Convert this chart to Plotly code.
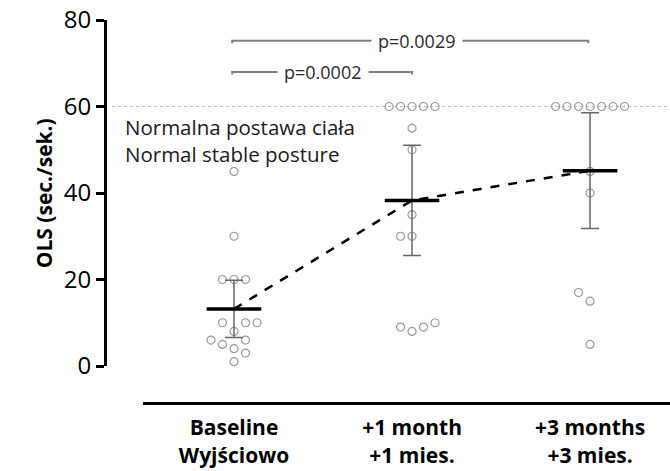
import numpy as np
import plotly.graph_objects as go

# ---- data ----
categories = ["Baseline<br>Wyjściowo", "+1 month<br>+1 mies.", "+3 months<br>+3 mies."]
baseline = [45, 30, 20, 20, 20, 10, 10, 10, 8, 6, 6, 5, 4, 3, 1]
month1 = [60, 60, 60, 60, 60, 55, 50, 35, 30, 30, 10, 9, 9, 8]
month3 = [60, 60, 60, 60, 60, 60, 60, 45, 40, 17, 15, 5]
y_ticks = [0, 20, 40, 60, 80]
normal_level = 60
p_labels = ["p=0.0029", "p=0.0002"]

# horizontal swarm slots (in marker widths) for each point, same order as values
slots_baseline = [0, 0, -1, 0, 1, -1, 1, 2, 0, -2, 1, -1, 0, 1, 0]
slots_month1 = [-2, -1, 0, 1, 2, 0, 0, 0, -1, 0, 2, -1, 1, 0]
slots_month3 = [-3, -2, -1, 0, 1, 2, 3, 0, 0, -1, 0, 0]

groups = [baseline, month1, month3]
slots = [slots_baseline, slots_month1, slots_month3]
t975 = {11: 2.201, 12: 2.179, 13: 2.160, 14: 2.145}

SLOT_W = 0.0646
px, py = [], []
for gi, (vals, sl) in enumerate(zip(groups, slots)):
    for v, s in zip(vals, sl):
        px.append(gi + s * SLOT_W)
        py.append(v)

means, cis = [], []
for vals in groups:
    a = np.array(vals, dtype=float)
    n = len(a)
    m = a.mean()
    se = a.std(ddof=1) / np.sqrt(n)
    means.append(m)
    cis.append(t975[n - 1] * se)

xs = [0, 1, 2]
fig = go.Figure()

fig.add_trace(go.Scatter(
    x=px, y=py, mode="markers", cliponaxis=False,
    marker=dict(symbol="circle-open", size=8, color="#9a9a9a", line=dict(width=1.2)),
    showlegend=False, hoverinfo="skip"))

fig.add_trace(go.Scatter(
    x=xs, y=means, mode="markers", cliponaxis=False,
    marker=dict(size=1, color="rgba(0,0,0,0)"),
    error_y=dict(type="data", array=cis, symmetric=True, width=9, thickness=1.5, color="#666666"),
    showlegend=False, hoverinfo="skip"))

fig.add_trace(go.Scatter(
    x=xs, y=means, mode="lines", cliponaxis=False,
    line=dict(color="black", width=2.5, dash="dash"),
    showlegend=False, hoverinfo="skip"))

fig.add_trace(go.Scatter(
    x=xs, y=means, mode="markers", cliponaxis=False,
    marker=dict(symbol="line-ew", size=39, line=dict(width=3.5, color="black")),
    showlegend=False, hoverinfo="skip"))

FONT = "Open Sans"

shapes = [
    dict(type="line", xref="paper", yref="y", x0=0.0124, x1=1, y0=normal_level, y1=normal_level,
         line=dict(color="#bdbdbd", width=1, dash="dot"), layer="below"),
    # brackets
    dict(type="path", xref="x", yref="y", path="M -0.01,74.6 L -0.01,75.2 L 1.99,75.2 L 1.99,74.6",
         line=dict(color="#808080", width=2)),
    dict(type="path", xref="x", yref="y", path="M -0.01,67.4 L -0.01,68.0 L 1.0,68.0 L 1.0,67.4",
         line=dict(color="#808080", width=2)),
]

annotations = [
    dict(x=1.03, y=75.2, xref="x", yref="y", text=p_labels[0], showarrow=False,
         font=dict(family=FONT, size=18, color="#2a2a2a"), bgcolor="white", borderpad=6),
    dict(x=0.5, y=68.0, xref="x", yref="y", text=p_labels[1], showarrow=False,
         font=dict(family=FONT, size=18, color="#2a2a2a"), bgcolor="white", borderpad=6),
    dict(x=0.032, y=52.2, xref="paper", yref="y", xanchor="left", align="left",
         text="Normalna postawa ciała<br>Normal stable posture",
         showarrow=False, font=dict(family=FONT, size=20.5, color="#1a1a1a")),
    dict(x=-0.136, y=0.548, xref="paper", yref="paper", text="<b>OLS (sec./sek.)</b>", textangle=-90,
         showarrow=False, font=dict(family=FONT, size=21, color="black")),
]

fig.update_layout(
    width=670, height=471,
    margin=dict(l=105, r=0, t=20, b=68),
    paper_bgcolor="white", plot_bgcolor="white",
    font=dict(family=FONT, color="black"),
    showlegend=False,
    shapes=shapes, annotations=annotations,
    xaxis=dict(domain=[0.0673, 1], range=[-0.511, 2.449], anchor="free", position=0,
               showline=True, linewidth=3, linecolor="black", ticks="", showgrid=False, zeroline=False,
               tickvals=xs, ticktext=categories, ticklabelstandoff=5,
               tickfont=dict(family=FONT, size=21, color="black", weight="bold")),
    yaxis=dict(domain=[0.0966, 1], range=[0, 80], anchor="free", position=0,
               showline=True, linewidth=3, linecolor="black", ticks="outside", ticklen=8, tickwidth=3,
               tickcolor="black", tickvals=y_ticks, showgrid=False, zeroline=False,
               tickfont=dict(family=FONT, size=24, color="black")),
)

fig.write_html("out.html")
